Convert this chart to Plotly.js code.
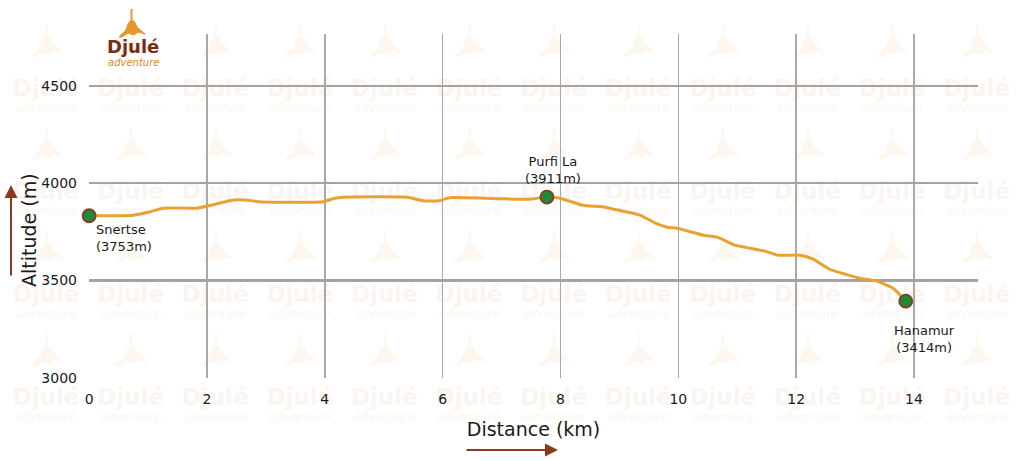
<!DOCTYPE html>
<html>
<head>
<meta charset="utf-8">
<script src="https://cdn.plot.ly/plotly-3.0.1.min.js"></script>
<style>html,body{margin:0;padding:0;background:#fff;}#chart{width:1024px;height:461px;}</style>
</head>
<body>
<div id="chart"></div>
<script>
// ---- Data ----
const distKm = [0, 0.75, 1.0, 1.26, 1.83, 2.14, 2.43, 2.70, 2.87, 3.97, 4.17, 4.31, 5.40, 5.67, 5.94, 6.13, 7.03, 7.48, 7.77, 7.99, 8.38, 8.76, 9.06, 9.35, 9.61, 9.81, 9.98, 10.42, 10.66, 10.96, 11.22, 11.47, 11.69, 12.07, 12.29, 12.57, 12.83, 13.08, 13.37, 13.64, 13.86];
const altM = [3832, 3835, 3850, 3871, 3871, 3891, 3912, 3912, 3904, 3904, 3922, 3927, 3927, 3909, 3909, 3925, 3919, 3917, 3928, 3922, 3886, 3876, 3855, 3835, 3794, 3773, 3768, 3732, 3722, 3681, 3665, 3650, 3629, 3629, 3609, 3557, 3532, 3511, 3496, 3460, 3393];

const stopNames = ["Snertse", "Purfi La", "Hanamur"];
const stopKm = [0, 7.77, 13.86];
const stopAlt = [3832, 3928, 3393];
const stopLabelAlt = [3753, 3911, 3414];

const xTicks = [0, 2, 4, 6, 8, 10, 12, 14];
const yTicks = [3000, 3500, 4000, 4500];

// ---- Layout helpers (pixel -> paper for decorations) ----
const M = {l: 89, r: 46, t: 34, b: 83};
const W = 1024, H = 461;
const PW = W - M.l - M.r, PH = H - M.t - M.b;
const px = X => (X - M.l) / PW;
const py = Y => (H - M.b - Y) / PH;

const FONT = "DejaVu Sans, Verdana, sans-serif";
const annotations = [];
const shapes = [];

// very faint background watermark pattern (decorative image under the grid)
function figurePath(cx, cy, s) {
  const pts = [[-12,16],[-5,9],[-3,3],[-1,0],[3,0],[6,6],[14,13],[7,11],[3,14],[-3,12],[-9,16]];
  return 'M' + pts.map(p => (cx + p[0]*s).toFixed(1) + ' ' + (cy + p[1]*s).toFixed(1)).join(' L') + ' Z' +
    ' M' + (cx+0.5*s).toFixed(1) + ' ' + (cy-12*s).toFixed(1) + ' L' + (cx+0.5*s).toFixed(1) + ' ' + cy.toFixed(1);
}
let wm = '<svg xmlns="http://www.w3.org/2000/svg" width="' + W + '" height="' + H + '" viewBox="0 0 ' + W + ' ' + H + '">';
const wmRows = [88, 191, 294, 397];
for (let i = 0; i < 12; i++) {
  const cx = 46 + 84.6 * i;
  wmRows.forEach(ry => {
    wm += '<path d="' + figurePath(cx, ry - 50, 1.1) + '" fill="#fdf7ef" stroke="#fdf7ef" stroke-width="2"/>';
    wm += '<text x="' + cx + '" y="' + (ry + 8) + '" text-anchor="middle" font-family="DejaVu Sans" font-weight="bold" font-size="23" fill="#fbf5f1">Djulé</text>';
    wm += '<text x="' + cx + '" y="' + (ry + 24) + '" text-anchor="middle" font-family="DejaVu Sans" font-style="italic" font-size="12" fill="#fcf7f1">adventure</text>';
  });
}
wm += '</svg>';

// stop labels
const labelCfg = [
  {xanchor: 'left', yanchor: 'top', xshift: 5, yshift: -4, align: 'left'},
  {xanchor: 'center', yanchor: 'bottom', xshift: 6, yshift: 9, align: 'center'},
  {xanchor: 'center', yanchor: 'top', xshift: 19, yshift: -20, align: 'center'}
];
stopNames.forEach((n, i) => {
  annotations.push(Object.assign({
    xref: 'x', yref: 'y', x: stopKm[i], y: stopAlt[i], showarrow: false,
    text: n + '<br>(' + stopLabelAlt[i] + 'm)',
    font: {family: FONT, size: 13, color: '#1a1a1a'}
  }, labelCfg[i]));
});

// y axis title placed as in the reference (below plot centre)
annotations.push({xref: 'paper', yref: 'paper', x: px(29), y: py(230), text: 'Altitude (m)', textangle: -90,
  showarrow: false, xanchor: 'center', yanchor: 'middle', font: {family: FONT, size: 19, color: '#1a1a1a'}});

// axis arrows
annotations.push({xref: 'paper', yref: 'paper', x: px(11), y: py(185), ax: 0, ay: 92, axref: 'pixel', ayref: 'pixel',
  text: '', showarrow: true, arrowhead: 2, arrowsize: 1.3, arrowwidth: 2, arrowcolor: '#8c3a1c'});
annotations.push({xref: 'paper', yref: 'paper', x: px(558), y: py(450), ax: -93, ay: 0, axref: 'pixel', ayref: 'pixel',
  text: '', showarrow: true, arrowhead: 2, arrowsize: 1.3, arrowwidth: 2, arrowcolor: '#8c3a1c'});

// logo
annotations.push({xref: 'paper', yref: 'paper', x: px(133), y: py(47), text: '<b>Djulé</b>', showarrow: false,
  xanchor: 'center', yanchor: 'middle', font: {family: FONT, size: 18, color: '#7a2c14'}});
annotations.push({xref: 'paper', yref: 'paper', x: px(133), y: py(62), text: '<i>adventure</i>', showarrow: false,
  xanchor: 'center', yanchor: 'middle', font: {family: FONT, size: 10, color: '#e08a1e'}});
const fig = [[119,37],[126,30],[128,24],[130,21],[134,21],[137,27],[145,34],[138,32],[134,35],[128,33],[122,37]];
shapes.push({type: 'path', xref: 'paper', yref: 'paper', layer: 'above',
  path: 'M ' + fig.map(p => px(p[0]) + ',' + py(p[1])).join(' L ') + ' Z',
  fillcolor: '#e8952a', line: {color: '#e8952a', width: 1}});
shapes.push({type: 'line', xref: 'paper', yref: 'paper', x0: px(131.5), y0: py(9), x1: px(131.5), y1: py(21),
  line: {color: '#e8952a', width: 2}});

const traces = [
  {x: distKm, y: altM, type: 'scatter', mode: 'lines', line: {color: '#e9a134', width: 3, shape: 'spline', smoothing: 0.5},
   hoverinfo: 'x+y', showlegend: false, cliponaxis: false},
  {x: stopKm, y: stopAlt, type: 'scatter', mode: 'markers', text: stopNames, cliponaxis: false,
   marker: {size: 13, color: '#1d8a3c', line: {color: '#8c3a1c', width: 1.8}}, showlegend: false}
];

const layout = {
  width: W, height: H,
  margin: M,
  paper_bgcolor: '#ffffff',
  plot_bgcolor: 'rgba(0,0,0,0)',
  showlegend: false,
  font: {family: FONT, size: 13, color: '#1a1a1a'},
  images: [{
    source: 'data:image/svg+xml;charset=utf-8,' + encodeURIComponent(wm),
    xref: 'paper', yref: 'paper', x: px(0), y: py(0), sizex: W / PW, sizey: H / PH,
    xanchor: 'left', yanchor: 'top', sizing: 'stretch', layer: 'below'
  }],
  xaxis: {
    range: [-0.002, (978 - 89) / ((914 - 89) / 14)],
    tickvals: xTicks, ticktext: xTicks.map(String),
    showgrid: true, gridcolor: '#a9a9a9', gridwidth: 1.5,
    zeroline: false, showline: false, ticks: '', ticklabelstandoff: 11,
    tickfont: {family: FONT, size: 14, color: '#1a1a1a'},
    title: {text: 'Distance (km)', font: {family: FONT, size: 19, color: '#1a1a1a'}, standoff: 16}
  },
  yaxis: {
    range: [2998, 4766],
    tickvals: yTicks, ticktext: yTicks.map(String),
    showgrid: true, gridcolor: '#a3a3a3', gridwidth: 2.4,
    zeroline: false, showline: false, ticks: '', ticklabelstandoff: 11,
    tickfont: {family: FONT, size: 14, color: '#1a1a1a'}
  },
  annotations: annotations,
  shapes: shapes
};

Plotly.newPlot('chart', traces, layout, {displayModeBar: false, staticPlot: true});
</script>
</body>
</html>
